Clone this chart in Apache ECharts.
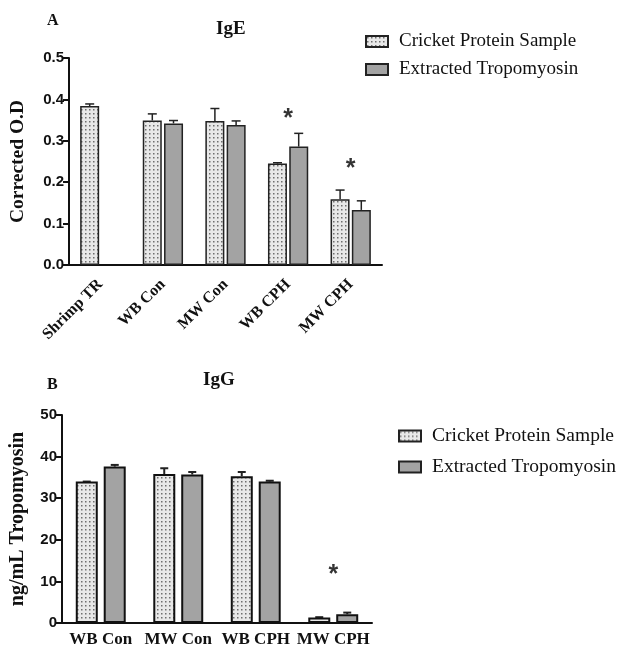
<!DOCTYPE html>
<html>
<head>
<meta charset="utf-8">
<script src="https://cdn.jsdelivr.net/npm/echarts@6/dist/echarts.min.js"></script>
<style>
  html, body { margin: 0; padding: 0; background: #fff; }
  #chart { width: 619px; height: 657px; }
</style>
</head>
<body>
<div id="chart"></div>
<script>
// panel A (IgE)
var igeCategories = ["Shrimp TR", "WB Con", "MW Con", "WB CPH", "MW CPH"];
var igeCricket = [0.384, 0.349, 0.348, 0.245, 0.159];
var igeCricketErr = [0.005, 0.016, 0.030, 0.002, 0.022];
var igeTropo = [null, 0.342, 0.338, 0.286, 0.133];
var igeTropoErr = [null, 0.007, 0.010, 0.032, 0.022];
var igeStars = [["WB CPH", 0.367], ["MW CPH", 0.246]];
var igeTicks = ["0.0", "0.1", "0.2", "0.3", "0.4", "0.5"];

// panel B (IgG)
var iggCategories = ["WB Con", "MW Con", "WB CPH", "MW CPH"];
var iggCricket = [34.0, 35.8, 35.3, 1.3];
var iggCricketErr = [0, 1.4, 1.0, 0.1];
var iggTropo = [37.6, 35.7, 34.0, 2.1];
var iggTropoErr = [0.4, 0.6, 0.2, 0.4];
var iggStars = [["MW CPH", 13]];

var serif = "Liberation Serif";
var sans = "Liberation Sans";

// dotted fill for the cricket bars
function dotPattern() {
  var c = document.createElement("canvas");
  c.width = 4;
  c.height = 4;
  var ctx = c.getContext("2d");
  ctx.fillStyle = "#e8e8e8";
  ctx.fillRect(0, 0, 4, 4);
  ctx.fillStyle = "#6e6e6e";
  ctx.fillRect(1, 1, 1.5, 1.5);
  return { image: c, repeat: "repeat" };
}
var dots = dotPattern();
var grey = "#a3a3a3";

function errSeries(vals, errs, axis, offset, cap, lw) {
  var data = [];
  for (var i = 0; i < vals.length; i++) {
    if (vals[i] != null) data.push([i, vals[i], errs[i]]);
  }
  return {
    type: "custom",
    xAxisIndex: axis,
    yAxisIndex: axis,
    z: 1,
    silent: true,
    data: data,
    renderItem: function(params, api) {
      var x = api.value(0), y = api.value(1), e = api.value(2);
      var p0 = api.coord([x, y]);
      var p1 = api.coord([x, y + e]);
      var cx = p0[0] + offset;
      return {
        type: "group",
        children: [
          { type: "line", shape: { x1: cx, y1: p0[1], x2: cx, y2: p1[1] }, style: { stroke: "#222", lineWidth: lw } },
          { type: "line", shape: { x1: cx - cap, y1: p1[1], x2: cx + cap, y2: p1[1] }, style: { stroke: "#222", lineWidth: lw } }
        ]
      };
    }
  };
}

function starSeries(pts, axis) {
  return {
    type: "scatter",
    xAxisIndex: axis,
    yAxisIndex: axis,
    symbolSize: 1,
    itemStyle: { color: "rgba(0,0,0,0)" },
    silent: true,
    label: {
      show: true,
      position: "inside",
      formatter: "*",
      fontFamily: sans,
      fontWeight: "bold",
      fontSize: 25,
      color: "#000",
      offset: [0, 6]
    },
    data: pts
  };
}

var axisLine = { lineStyle: { color: "#111", width: 2 } };
var tick = { length: 6, lineStyle: { width: 2, color: "#111" } };

var chart = echarts.init(document.getElementById("chart"));
chart.setOption({
  animation: false,
  backgroundColor: "#fff",
  title: [
    { text: "A", left: 42, top: 8, textStyle: { fontFamily: serif, fontWeight: "bold", fontSize: 16, color: "#111" } },
    { text: "IgE", left: 211, top: 15, textStyle: { fontFamily: serif, fontWeight: "bold", fontSize: 19, color: "#111" } },
    { text: "B", left: 42, top: 372, textStyle: { fontFamily: serif, fontWeight: "bold", fontSize: 16, color: "#111" } },
    { text: "IgG", left: 198, top: 366, textStyle: { fontFamily: serif, fontWeight: "bold", fontSize: 19, color: "#111" } }
  ],
  legend: [
    {
      orient: "vertical", left: 360, top: 27, icon: "rect", itemWidth: 22, itemHeight: 11, itemGap: 9,
      data: ["Cricket Protein Sample", "Extracted Tropomyosin"],
      textStyle: { fontFamily: serif, fontSize: 19, color: "#111", padding: [0, 0, 0, 6] }
    },
    {
      orient: "vertical", left: 393, top: 421, icon: "rect", itemWidth: 22, itemHeight: 11, itemGap: 11,
      data: ["Cricket Protein Sample", "Extracted Tropomyosin"],
      textStyle: { fontFamily: serif, fontSize: 19.5, color: "#111", padding: [0, 0, 0, 6] }
    }
  ],
  grid: [
    { left: 68, top: 58, width: 314, height: 207 },
    { left: 58, top: 415, width: 314, height: 208 }
  ],
  xAxis: [
    {
      type: "category", gridIndex: 0, data: igeCategories,
      axisLine: axisLine,
      axisTick: Object.assign({ alignWithLabel: true }, tick),
      axisLabel: { interval: 0, rotate: 45, fontFamily: serif, fontWeight: "bold", fontSize: 16, color: "#111", margin: 17 }
    },
    {
      type: "category", gridIndex: 1, data: iggCategories,
      axisLine: axisLine,
      axisTick: Object.assign({ alignWithLabel: true }, tick),
      axisLabel: { interval: 0, fontFamily: serif, fontWeight: "bold", fontSize: 17, color: "#111", margin: 8 }
    }
  ],
  yAxis: [
    {
      type: "value", gridIndex: 0, min: 0, max: 0.5, interval: 0.1,
      name: "Corrected O.D", nameLocation: "middle", nameGap: 41, nameRotate: 90,
      nameTextStyle: { fontFamily: serif, fontWeight: "bold", fontSize: 19.5, color: "#111" },
      axisLine: Object.assign({ show: true }, axisLine),
      axisTick: Object.assign({ show: true }, tick),
      splitLine: { show: false },
      axisLabel: {
        fontFamily: sans, fontWeight: "bold", fontSize: 15, color: "#111", margin: 5,
        formatter: function(v) { return igeTicks[Math.round(v * 10)]; }
      }
    },
    {
      type: "value", gridIndex: 1, min: 0, max: 50, interval: 10,
      name: "ng/mL Tropomyosin", nameLocation: "middle", nameGap: 34, nameRotate: 90,
      nameTextStyle: { fontFamily: serif, fontWeight: "bold", fontSize: 20, color: "#111" },
      axisLine: Object.assign({ show: true }, axisLine),
      axisTick: Object.assign({ show: true }, tick),
      splitLine: { show: false },
      axisLabel: { fontFamily: sans, fontWeight: "bold", fontSize: 15, color: "#111", margin: 5 }
    }
  ],
  series: [
    {
      name: "Cricket Protein Sample", type: "bar", xAxisIndex: 0, yAxisIndex: 0,
      data: igeCricket, barWidth: 19, barGap: "12%", z: 2,
      itemStyle: { color: dots, borderColor: "#222", borderWidth: 1.5 }
    },
    {
      name: "Extracted Tropomyosin", type: "bar", xAxisIndex: 0, yAxisIndex: 0,
      data: igeTropo, barWidth: 19, barGap: "12%", z: 2,
      itemStyle: { color: grey, borderColor: "#222", borderWidth: 1.5 }
    },
    errSeries(igeCricket, igeCricketErr, 0, -10.6, 4.5, 1.5),
    errSeries(igeTropo, igeTropoErr, 0, 10.6, 4.5, 1.5),
    starSeries(igeStars, 0),
    {
      name: "Cricket Protein Sample", type: "bar", xAxisIndex: 1, yAxisIndex: 1,
      data: iggCricket, barWidth: 22, barGap: "27%", z: 2,
      itemStyle: { color: dots, borderColor: "#111", borderWidth: 2 }
    },
    {
      name: "Extracted Tropomyosin", type: "bar", xAxisIndex: 1, yAxisIndex: 1,
      data: iggTropo, barWidth: 22, barGap: "27%", z: 2,
      itemStyle: { color: grey, borderColor: "#111", borderWidth: 2 }
    },
    errSeries(iggCricket, iggCricketErr, 1, -14, 4, 2),
    errSeries(iggTropo, iggTropoErr, 1, 14, 4, 2),
    starSeries(iggStars, 1)
  ]
});
</script>
</body>
</html>
